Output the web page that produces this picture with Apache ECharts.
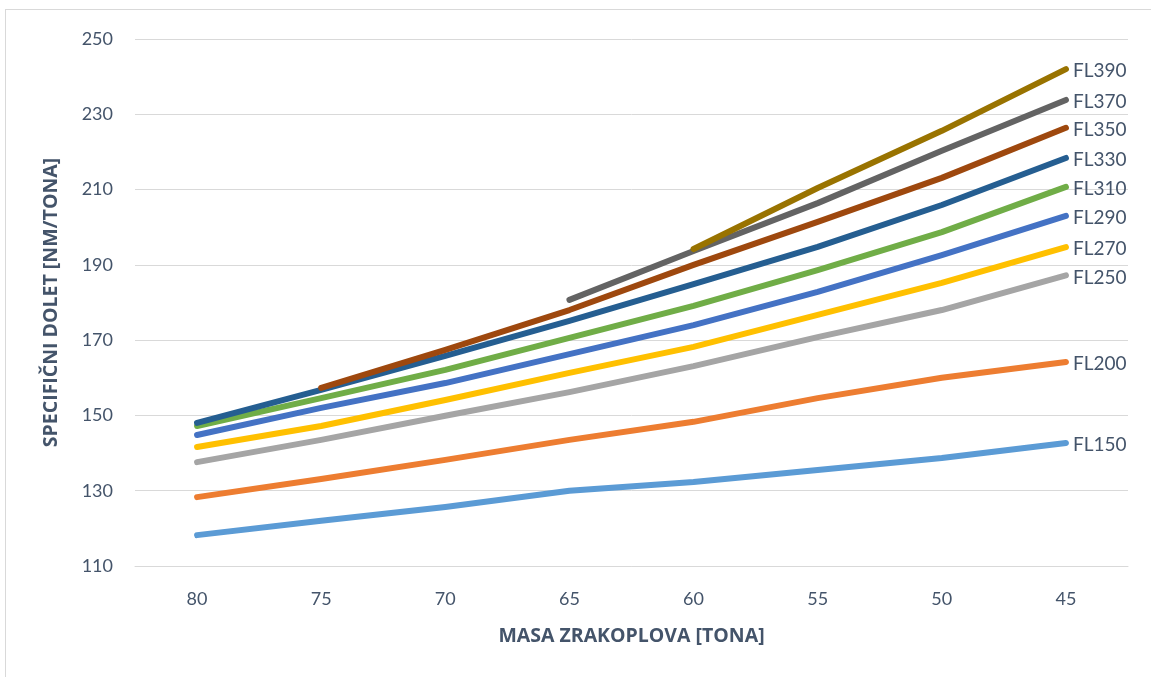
<!DOCTYPE html>
<html>
<head>
<meta charset="utf-8">
<script src="https://cdn.jsdelivr.net/npm/echarts@6/dist/echarts.min.js"></script>
<style>
html,body{margin:0;padding:0;background:#fff;}
#frame{position:absolute;left:5px;top:9px;width:1160px;height:680px;border:1px solid #d9d9d9;box-sizing:border-box;}
#chart{position:absolute;left:0;top:0;width:1151px;height:677px;}
</style>
</head>
<body>
<div id="frame"></div>
<div id="chart"></div>
<script>
const categories = ['80', '75', '70', '65', '60', '55', '50', '45'];
const seriesNames = ['FL150', 'FL200', 'FL250', 'FL270', 'FL290', 'FL310', 'FL330', 'FL350', 'FL370', 'FL390'];
const FL150 = [118.2, 122.0, 125.7, 130.0, 132.3, 135.5, 138.7, 142.7];
const FL200 = [128.3, 133.1, 138.2, 143.5, 148.3, 154.6, 160.0, 164.2];
const FL250 = [137.6, 143.5, 149.9, 156.2, 163.1, 170.8, 178.0, 187.2];
const FL270 = [141.6, 147.2, 154.1, 161.3, 168.2, 176.7, 185.2, 194.7];
const FL290 = [144.8, 152.0, 158.6, 166.3, 174.0, 182.8, 192.6, 203.0];
const FL310 = [147.2, 154.6, 162.1, 170.6, 179.1, 188.6, 198.7, 210.7];
const FL330 = [148.0, 156.8, 165.8, 175.1, 184.9, 194.8, 205.9, 218.4];
const FL350 = [null, 157.3, 167.4, 178.0, 190.0, 201.4, 213.1, 226.4];
const FL370 = [null, null, null, 180.7, 193.7, 206.4, 220.3, 233.8];
const FL390 = [null, null, null, null, 194.2, 210.4, 225.6, 242.0];
const seriesData = [FL150, FL200, FL250, FL270, FL290, FL310, FL330, FL350, FL370, FL390];
const colors = ['#5B9BD5', '#ED7D31', '#A5A5A5', '#FFC000', '#4472C4', '#70AD47', '#255E91', '#9E480E', '#636363', '#997300'];
const yTicks = {min: 110, max: 250, step: 20};
const xTitle = 'MASA ZRAKOPLOVA [TONA]';
const yTitle = 'SPECIFIČNI DOLET [NM/TONA]';

const font = 'Lato, "Open Sans", sans-serif';
const titleFont = '"Open Sans", Lato, sans-serif';
const textColor = '#44546A';
const chart = echarts.init(document.getElementById('chart'));
chart.setOption({
  animation: false,
  backgroundColor: 'transparent',
  grid: {left: 135, right: 23, top: 39, bottom: 111},
  xAxis: {
    type: 'category',
    data: categories,
    boundaryGap: true,
    axisLine: {show: true, lineStyle: {color: '#D9D9D9', width: 1}},
    axisTick: {show: false},
    axisLabel: {color: textColor, fontSize: 18, fontFamily: font, margin: 24},
    name: xTitle,
    nameLocation: 'middle',
    nameGap: 60,
    nameTextStyle: {color: textColor, fontSize: 19.5, fontWeight: 700, fontFamily: titleFont}
  },
  yAxis: {
    type: 'value',
    min: yTicks.min,
    max: yTicks.max,
    interval: yTicks.step,
    axisLine: {show: false},
    axisTick: {show: false},
    splitLine: {show: true, lineStyle: {color: '#D9D9D9', width: 1}},
    axisLabel: {color: textColor, fontSize: 18, fontFamily: font, margin: 22},
    name: yTitle,
    nameLocation: 'middle',
    nameGap: 74,
    nameRotate: 90,
    nameTextStyle: {color: textColor, fontSize: 19.5, fontWeight: 700, fontFamily: titleFont}
  },
  series: seriesNames.map((n, i) => ({
    name: n,
    type: 'line',
    data: seriesData[i],
    symbol: 'none',
    connectNulls: false,
    lineStyle: {color: colors[i], width: 6, cap: 'round', join: 'round'},
    itemStyle: {color: colors[i]},
    endLabel: {
      show: true,
      formatter: n,
      color: textColor,
      fontSize: 19,
      fontFamily: font,
      distance: 7,
      offset: [0, 2]
    }
  }))
});
</script>
</body>
</html>
